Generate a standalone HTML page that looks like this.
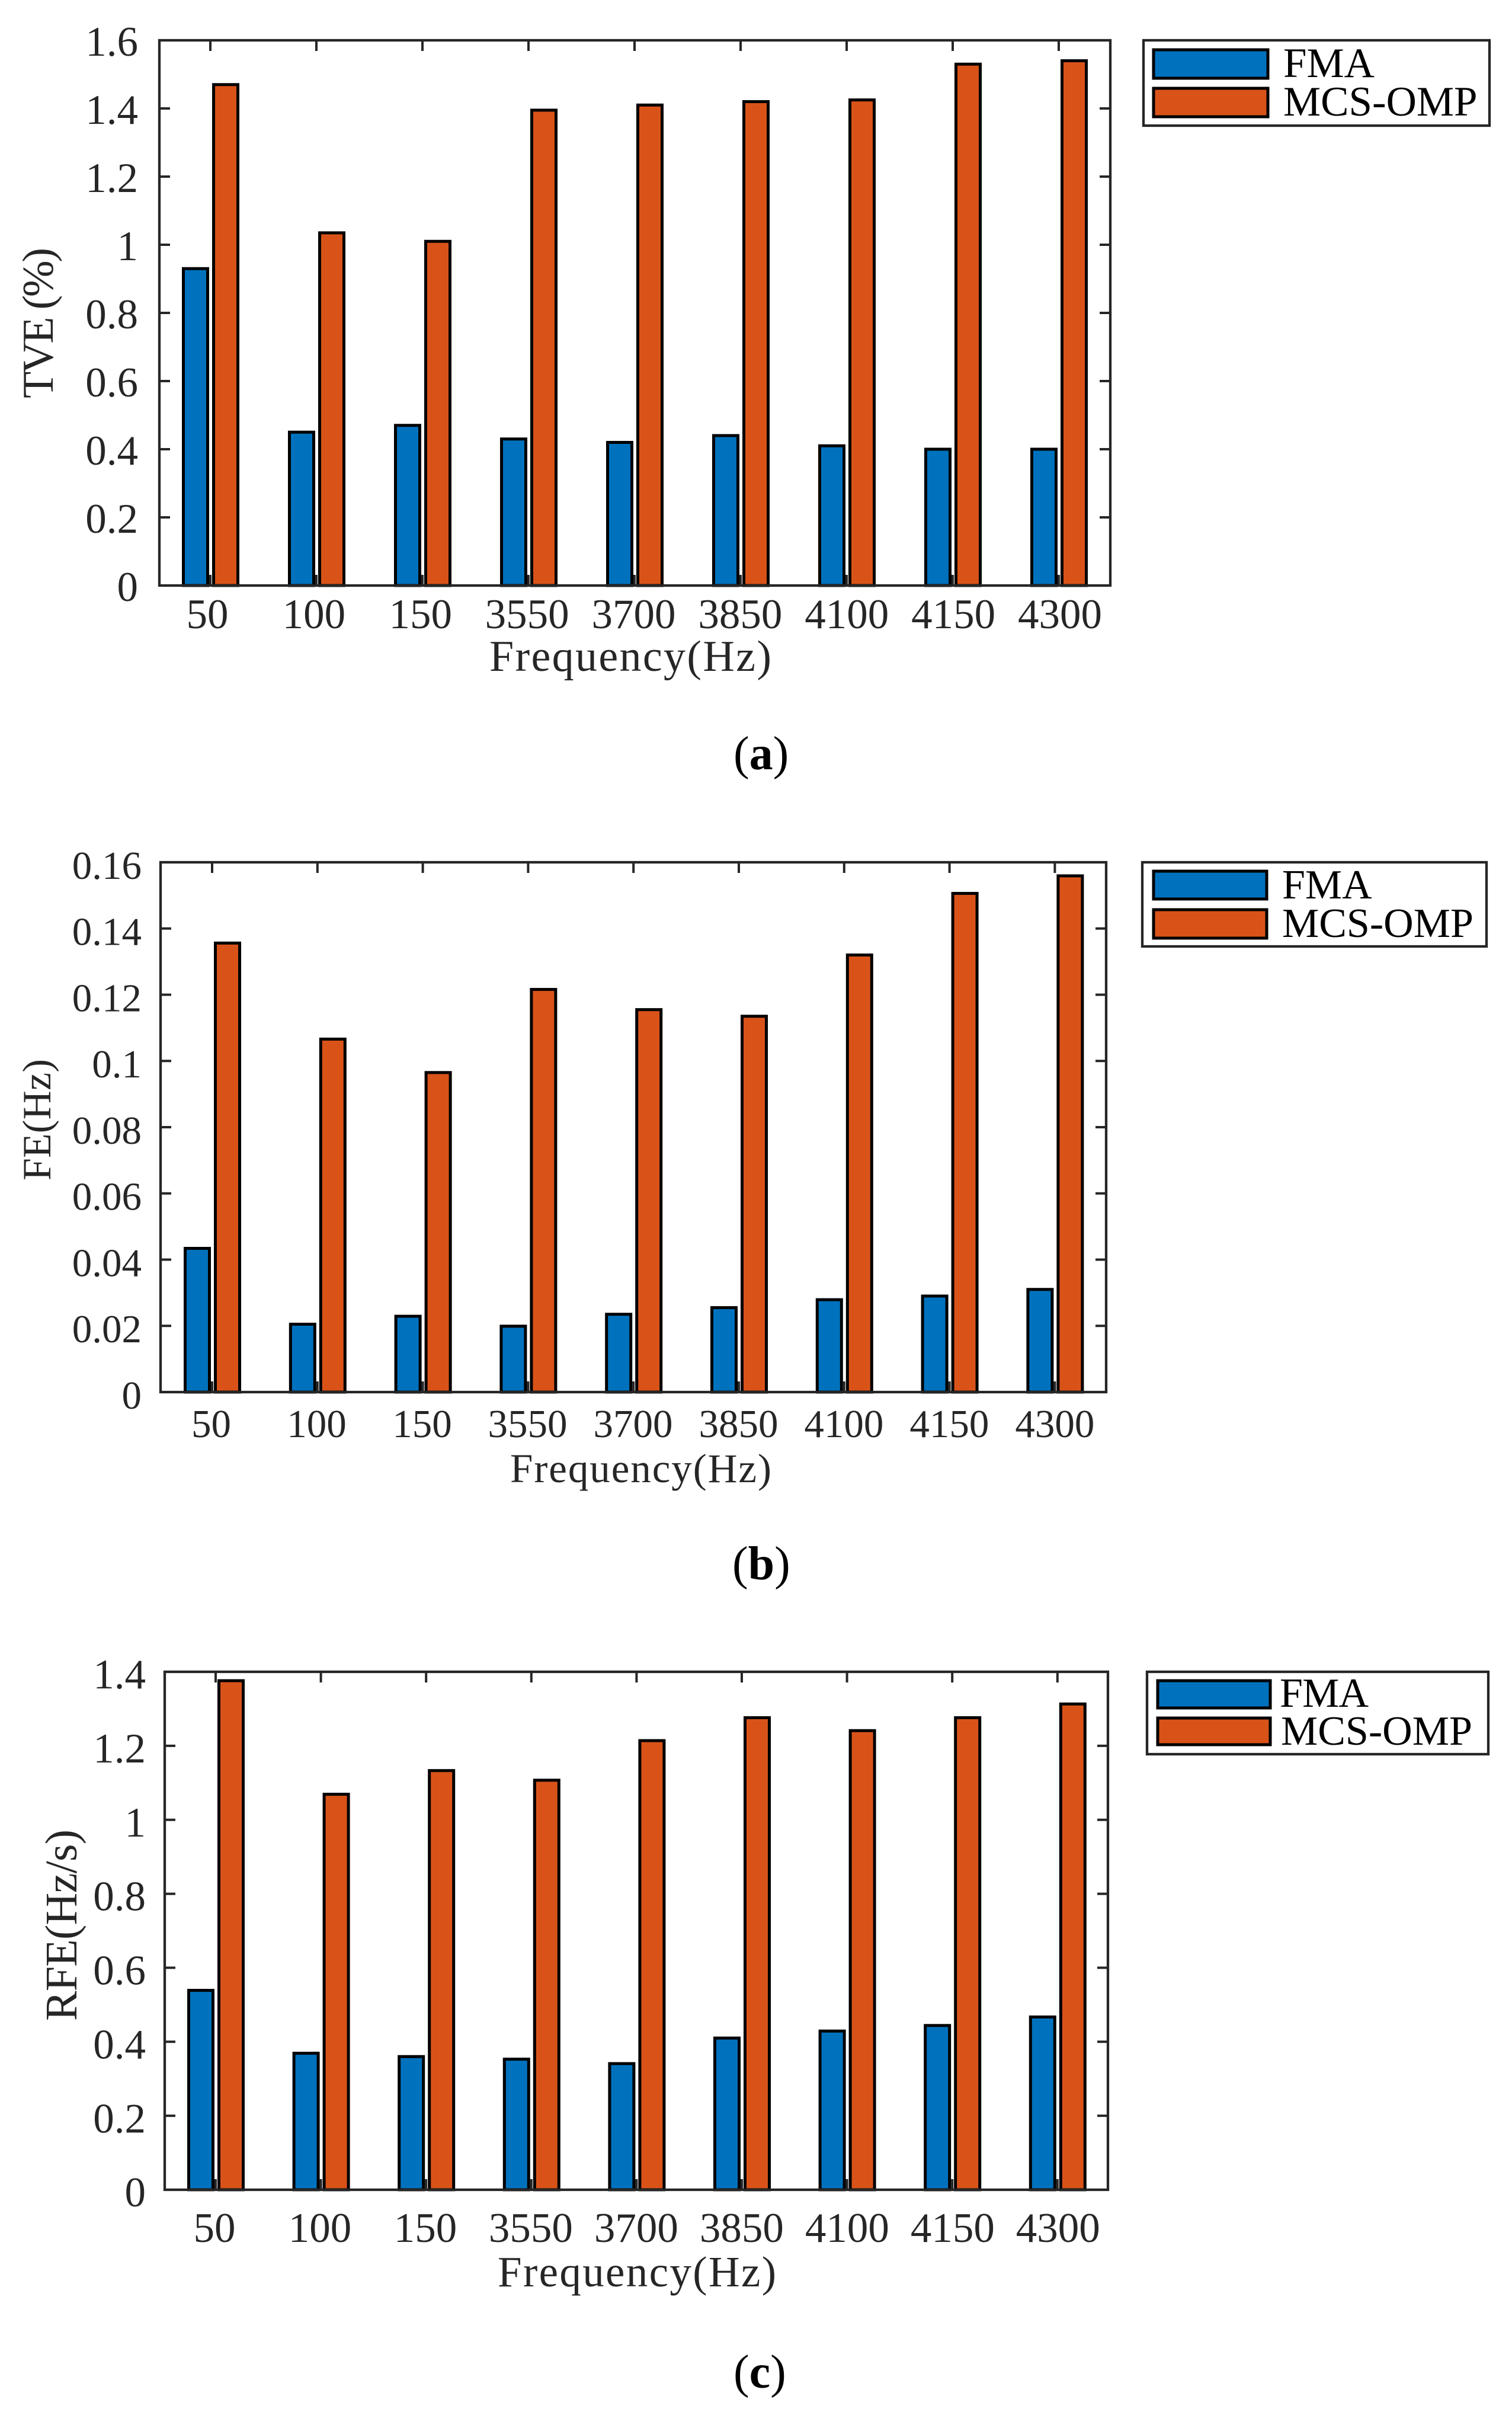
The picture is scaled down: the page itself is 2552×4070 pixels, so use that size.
<!DOCTYPE html>
<html lang="en">
<head>
<meta charset="utf-8">
<title>FMA vs MCS-OMP error comparison</title>
<style>
html,body{margin:0;padding:0;background:#fff;}
svg{display:block;}
text{font-family:"Liberation Serif",serif;fill:#262626;}
.leg{fill:#000;}
.cap{fill:#000;font-size:80px;}
</style>
</head>
<body>
<svg id="fig" xmlns="http://www.w3.org/2000/svg" width="2552" height="4070" viewBox="0 0 2552 4070">
  <rect x="0" y="0" width="2552" height="4070" fill="#fff"/>

  <g id="panel-a">
    <text x="89" y="672" font-size="74" textLength="254" lengthAdjust="spacing" transform="rotate(-90 89 672)">TVE (%)</text>
    <text x="826" y="1132" font-size="74" textLength="476" lengthAdjust="spacing">Frequency(Hz)</text>
    <g>
      <rect x="1930" y="68" width="584" height="144" fill="#fff" stroke="#262626" stroke-width="4.3"/>
      <rect x="1947" y="84" width="193" height="48" fill="#0072BD" stroke="#000" stroke-width="5"/>
      <rect x="1947" y="149" width="193" height="48" fill="#D95319" stroke="#000" stroke-width="5"/>
      <text class="leg" x="2166" y="130" font-size="71">FMA</text>
      <text class="leg" x="2166" y="195" font-size="71">MCS-OMP</text>
    </g>
    <text class="cap" x="1238" y="1298">(<tspan font-weight="bold">a</tspan>)</text>
  </g>

  <g id="panel-b">
    <text x="85" y="1992" font-size="68" textLength="205" lengthAdjust="spacing" transform="rotate(-90 85 1992)">FE(Hz)</text>
    <text x="861" y="2501" font-size="69" textLength="441" lengthAdjust="spacing">Frequency(Hz)</text>
    <g>
      <rect x="1928" y="1455" width="581" height="142" fill="#fff" stroke="#262626" stroke-width="4.3"/>
      <rect x="1947" y="1470" width="191" height="47" fill="#0072BD" stroke="#000" stroke-width="5"/>
      <rect x="1947" y="1535" width="191" height="48" fill="#D95319" stroke="#000" stroke-width="5"/>
      <text class="leg" x="2164" y="1516" font-size="70">FMA</text>
      <text class="leg" x="2164" y="1581" font-size="70">MCS-OMP</text>
    </g>
    <text class="cap" x="1236" y="2665">(<tspan font-weight="bold">b</tspan>)</text>
  </g>

  <g id="panel-c">
    <text x="129" y="3410" font-size="76" textLength="323" lengthAdjust="spacing" transform="rotate(-90 129 3410)">RFE(Hz/s)</text>
    <text x="840" y="3858" font-size="73" textLength="470" lengthAdjust="spacing">Frequency(Hz)</text>
    <g>
      <rect x="1936" y="2821" width="576" height="139" fill="#fff" stroke="#262626" stroke-width="4.3"/>
      <rect x="1954" y="2836" width="190" height="46" fill="#0072BD" stroke="#000" stroke-width="5"/>
      <rect x="1954" y="2899" width="190" height="45" fill="#D95319" stroke="#000" stroke-width="5"/>
      <text class="leg" x="2160" y="2880" font-size="70" textLength="150" lengthAdjust="spacing">FMA</text>
      <text class="leg" x="2162" y="2944" font-size="70">MCS-OMP</text>
    </g>
    <text class="cap" x="1238" y="4029">(<tspan font-weight="bold">c</tspan>)</text>
  </g>
</svg>

<script>
// Shared category labels
const categories = ['50', '100', '150', '3550', '3700', '3850', '4100', '4150', '4300'];

// Panel (a) TVE (%)
const tveTicks = ['0', '0.2', '0.4', '0.6', '0.8', '1', '1.2', '1.4', '1.6'];
const tveFma = [0.93, 0.45, 0.47, 0.43, 0.42, 0.44, 0.41, 0.40, 0.40];
const tveMcs = [1.47, 1.035, 1.01, 1.395, 1.41, 1.42, 1.425, 1.53, 1.54];

// Panel (b) FE (Hz)
const feTicks = ['0', '0.02', '0.04', '0.06', '0.08', '0.1', '0.12', '0.14', '0.16'];
const feFma = [0.0434, 0.0205, 0.0229, 0.0199, 0.0235, 0.0255, 0.0279, 0.029, 0.031];
const feMcs = [0.1356, 0.1066, 0.0965, 0.1216, 0.1155, 0.1135, 0.132, 0.1506, 0.1559];

// Panel (c) RFE (Hz/s)
const rfeTicks = ['0', '0.2', '0.4', '0.6', '0.8', '1', '1.2', '1.4'];
const rfeFma = [0.539, 0.369, 0.36, 0.353, 0.341, 0.41, 0.429, 0.444, 0.467];
const rfeMcs = [1.376, 1.069, 1.133, 1.107, 1.214, 1.276, 1.241, 1.276, 1.313];

const SVGNS = 'http://www.w3.org/2000/svg';
const AXIS = '#262626';

function make(parent, tag, attrs) {
  const node = document.createElementNS(SVGNS, tag);
  for (const key in attrs) node.setAttribute(key, attrs[key]);
  parent.appendChild(node);
  return node;
}

function drawPanel(cfg) {
  const root = document.getElementById(cfg.id);
  const yMax = Math.max.apply(null, cfg.ticks.map(Number));
  const xScale = function (i) { return cfg.cat0 + i * cfg.step; };
  const yScale = function (v) { return cfg.bottom - (v / yMax) * (cfg.bottom - cfg.top); };
  const tickLen = 18;

  const plot = make(root, 'g', {});
  
  

  // Ticks sit below the bars
  cfg.ticks.forEach(function (label) {
    const y = yScale(Number(label));
    const left = make(plot, 'line', { x1: cfg.left, x2: cfg.left + tickLen, y1: y, y2: y, stroke: AXIS, 'stroke-width': 4 });
    
    
    const right = make(plot, 'line', { x1: cfg.right, x2: cfg.right - tickLen, y1: y, y2: y, stroke: AXIS, 'stroke-width': 4 });
    
    
    const text = make(plot, 'text', { x: cfg.yLabelRight, y: y + cfg.fs * 0.34 + cfg.yLabelDy, 'text-anchor': 'end', 'font-size': cfg.fs });
    
    
    text.textContent = label;
  });

  const labelStep = (cfg.shiftEnd - cfg.shiftStart) / (categories.length - 1);
  categories.forEach(function (label, i) {
    const x = xScale(i);
    const bottomTick = make(plot, 'line', { x1: x, x2: x, y1: cfg.bottom, y2: cfg.bottom - tickLen, stroke: AXIS, 'stroke-width': 4 });
    
    
    const topTick = make(plot, 'line', { x1: x, x2: x, y1: cfg.top, y2: cfg.top + tickLen, stroke: AXIS, 'stroke-width': 4 });
    
    
    const text = make(plot, 'text', { x: x + cfg.shiftStart + labelStep * i, y: cfg.xLabelBase, 'text-anchor': 'middle', 'font-size': cfg.fs });
    
    
    text.textContent = label;
  });

  const barW = 41;
  categories.forEach(function (label, i) {
    const x = xScale(i);
    const yA = yScale(cfg.fma[i]);
    const barA = make(plot, 'rect', { x: x - 25 - barW / 2, y: yA, width: barW, height: cfg.bottom - yA, fill: '#0072BD', stroke: '#000', 'stroke-width': 5 });
    
    
    const yB = yScale(cfg.mcs[i]);
    const barB = make(plot, 'rect', { x: x + 26 - barW / 2, y: yB, width: barW, height: cfg.bottom - yB, fill: '#D95319', stroke: '#000', 'stroke-width': 5 });
    
    
  });

  const frame = make(plot, 'rect', { x: cfg.left, y: cfg.top, width: cfg.right - cfg.left, height: cfg.bottom - cfg.top, fill: 'none', stroke: AXIS, 'stroke-width': 4.3 });
  
  
}

drawPanel({ id: 'panel-a', left: 269, right: 1874, top: 68, bottom: 988, cat0: 355, step: 179, fs: 71, yLabelRight: 233, yLabelDy: 2, shiftStart: -5, shiftEnd: 2, xLabelBase: 1060, ticks: tveTicks, fma: tveFma, mcs: tveMcs });
drawPanel({ id: 'panel-b', left: 271, right: 1867, top: 1455, bottom: 2349, cat0: 358, step: 177.8, fs: 67, yLabelRight: 239, yLabelDy: 5, shiftStart: -1.5, shiftEnd: 0, xLabelBase: 2425, ticks: feTicks, fma: feFma, mcs: feMcs });
drawPanel({ id: 'panel-c', left: 278, right: 1870, top: 2821, bottom: 3695, cat0: 364, step: 177.6, fs: 71, yLabelRight: 246, yLabelDy: 4, shiftStart: -2, shiftEnd: 1, xLabelBase: 3783, ticks: rfeTicks, fma: rfeFma, mcs: rfeMcs });
</script>
</body>
</html>
